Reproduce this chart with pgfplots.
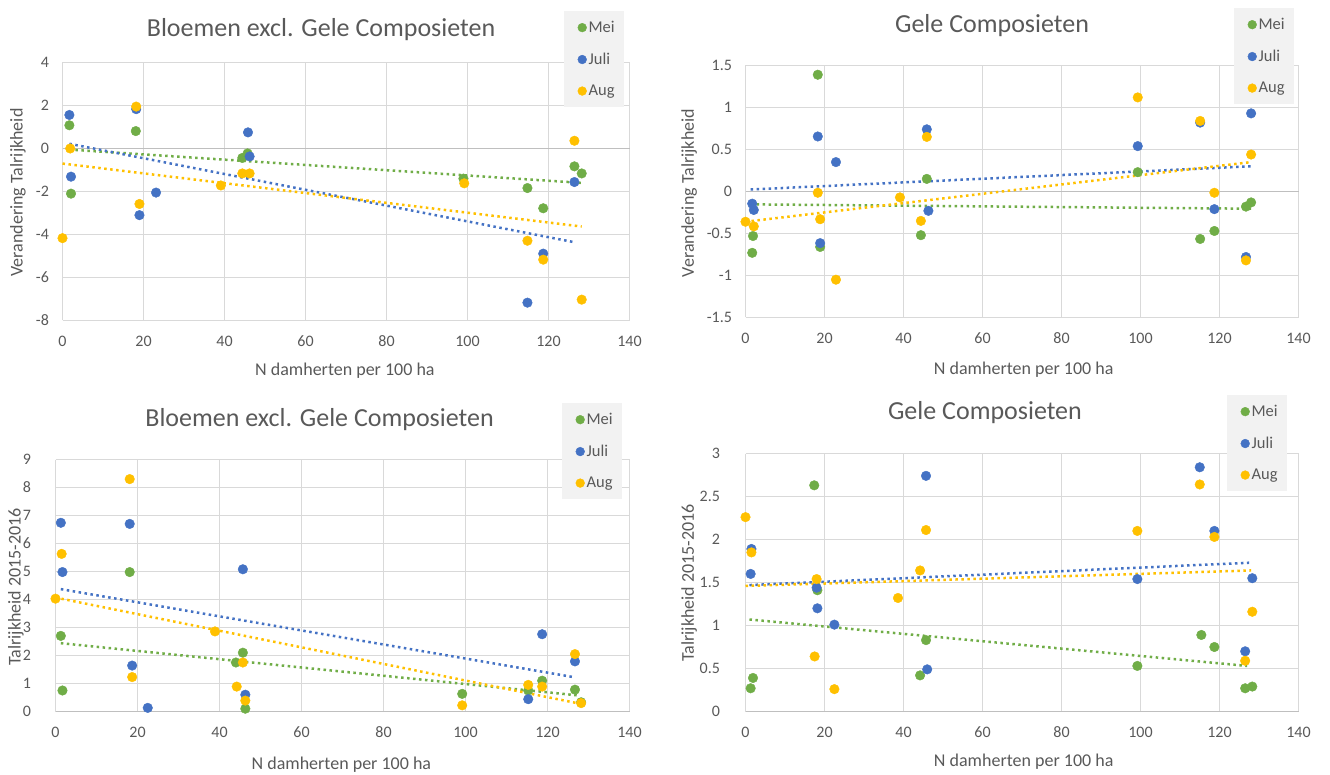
\documentclass[border=0pt]{standalone}
\usepackage{fontspec}
\setmainfont{Carlito}
\usepackage{pgfplots}
\pgfplotsset{compat=1.18}

\definecolor{mei}{HTML}{70AD47}
\definecolor{juli}{HTML}{4472C4}
\definecolor{aug}{HTML}{FFC000}
\definecolor{txt}{HTML}{595959}
\definecolor{gridc}{HTML}{D9D9D9}
\definecolor{zeroc}{HTML}{BFBFBF}
\definecolor{legbg}{HTML}{F2F2F2}

\pgfplotsset{
  panel/.style={
    scale only axis,
    xmin=0, xmax=140, xtick={0,20,...,140},
    grid=major,
    grid style={gridc, line width=1.3pt},
    axis line style={draw=none},
    major tick length=0pt,
    tick label style={font=\fontsize{16}{19}\selectfont, text=txt},
    /pgf/number format/assume math mode=true,
    xticklabel style={yshift=-12pt},
    yticklabel style={xshift=-10pt},
    label style={font=\fontsize{18}{22}\selectfont, text=txt},
    title style={font=\fontsize{26}{30}\selectfont, text=txt, anchor=base, yshift=-6pt},
    xlabel={N damherten per 100 ha},
    extra y ticks={0}, extra y tick labels={},
    extra y tick style={grid style={zeroc, line width=1.3pt}},
    legend style={fill=legbg, draw=none, anchor=north west,
      font=\fontsize{16.5}{20}\selectfont, text=txt,
      row sep=15pt, inner xsep=7pt, inner ysep=8pt, cells={anchor=west}},
    clip=false,
  },
  pts/.style={only marks, mark=*, mark size=4.8pt, color=#1,
    mark options={draw=none, fill=#1}},
  trend/.style={color=#1, line width=2.5pt, dash pattern=on 2.5pt off 3.5pt,
    forget plot},
}
\pgfplotsset{legend image code/.code={%
  \draw[#1, mark size=4.4pt] plot coordinates {(0pt,0pt)};
  \path[draw=none, fill=none] (-11pt,0pt) -- (3pt,0pt);}}

\begin{document}
\begin{tikzpicture}
\path[use as bounding box] (0,0) rectangle (1330pt,774pt);

% top left
\begin{axis}[panel, at={(62.5pt,453.5pt)}, anchor=south west,
  width=567pt, height=258pt,
  ymin=-8, ymax=4, ytick={-8,-6,...,4},
  title={Bloemen excl. Gele Composieten},
  title style={at={(0.456,1.1)}},
  ylabel={Verandering Talrijkheid},
  ylabel style={at={(axis description cs:-0.0785,0.496)}, anchor=center},
  xlabel style={at={(axis description cs:0.498,-0.215)}, anchor=base},
  legend style={at={(0.8845,1.1996)}}]
\addplot[pts=mei] coordinates {(1.7,1.08) (2.1,-2.1) (18.1,0.81) (44.4,-0.44) (45.7,-0.23) (99.0,-1.40) (114.8,-1.84) (118.7,-2.78) (126.4,-0.83) (128.2,-1.16)};
\addplot[pts=juli] coordinates {(1.7,1.56) (2.1,-1.31) (18.2,1.83) (19.0,-3.10) (23.1,-2.05) (45.8,0.75) (46.2,-0.37) (114.8,-7.17) (118.7,-4.89) (126.4,-1.56)};
\addplot[pts=aug] coordinates {(0,-4.17) (1.9,0.0) (18.2,1.95) (19.0,-2.58) (39.1,-1.72) (44.4,-1.16) (46.2,-1.16) (99.2,-1.62) (114.8,-4.29) (118.7,-5.17) (126.4,0.36) (128.2,-7.03)};
\addplot[trend=mei] coordinates {(1.7,-0.05) (128.2,-1.6)};
\addplot[trend=juli] coordinates {(1.7,0.22) (126.4,-4.36)};
\addplot[trend=aug] coordinates {(0,-0.70) (128.2,-3.63)};
\legend{Mei,Juli,Aug}
\end{axis}

% top right
\begin{axis}[panel, at={(745.5pt,456.5pt)}, anchor=south west,
  width=553pt, height=252pt,
  ymin=-1.5, ymax=1.5, ytick={-1.5,-1,...,1.5},
  title={Gele Composieten},
  title style={at={(0.4458,1.129)}},
  ylabel={Verandering Talrijkheid},
  ylabel style={at={(axis description cs:-0.102,0.494)}, anchor=center},
  xlabel style={at={(axis description cs:0.503,-0.228)}, anchor=base},
  legend style={at={(0.8834,1.228)}}]
\addplot[pts=mei] coordinates {(1.7,-0.73) (1.9,-0.53) (18.3,1.39) (18.9,-0.66) (44.4,-0.52) (45.9,0.15) (99.3,0.23) (115.1,-0.565) (118.7,-0.47) (126.7,-0.18) (128,-0.13)};
\addplot[pts=juli] coordinates {(1.7,-0.145) (2.1,-0.22) (18.3,0.655) (18.9,-0.615) (22.9,0.35) (45.9,0.74) (46.3,-0.23) (99.3,0.54) (115.1,0.82) (118.7,-0.21) (126.7,-0.78) (128,0.93)};
\addplot[pts=aug] coordinates {(0,-0.36) (2.1,-0.415) (18.3,-0.015) (18.9,-0.33) (22.9,-1.05) (39.1,-0.07) (44.4,-0.35) (45.9,0.65) (99.3,1.12) (115.1,0.84) (118.7,-0.015) (126.7,-0.82) (128,0.44)};
\addplot[trend=mei] coordinates {(1.3,-0.153) (128,-0.205)};
\addplot[trend=juli] coordinates {(1.3,0.024) (128,0.30)};
\addplot[trend=aug] coordinates {(0,-0.36) (128,0.35)};
\legend{Mei,Juli,Aug}
\end{axis}

% bottom left
\begin{axis}[panel, at={(55.5pt,62.5pt)}, anchor=south west,
  width=574pt, height=252pt,
  ymin=0, ymax=9, ytick={0,1,...,9},
  yticklabel style={xshift=-11pt},
  title={Bloemen excl. Gele Composieten},
  title style={at={(0.46,1.129)}},
  ylabel={Talrijkheid 2015-2016},
  ylabel style={at={(axis description cs:-0.0688,0.494)}, anchor=center},
  xlabel style={at={(axis description cs:0.498,-0.232)}, anchor=base},
  legend style={at={(0.8824,1.224)}}]
\addplot[pts=mei] coordinates {(1.3,2.7) (1.7,0.75) (18.1,4.98) (44.0,1.75) (45.7,2.1) (46.3,0.1) (99.2,0.63) (115.3,0.75) (118.7,1.1) (126.7,0.78) (128.2,0.33)};
\addplot[pts=juli] coordinates {(1.3,6.74) (1.7,4.98) (18.1,6.7) (18.7,1.64) (22.5,0.13) (45.7,5.08) (46.3,0.6) (115.3,0.44) (118.7,2.76) (126.7,1.79)};
\addplot[pts=aug] coordinates {(0,4.03) (1.5,5.63) (18.1,8.3) (18.7,1.23) (38.9,2.86) (44.2,0.89) (45.7,1.75) (46.3,0.39) (99.2,0.22) (115.3,0.95) (118.7,0.89) (126.7,2.05) (128.2,0.3)};
\addplot[trend=mei] coordinates {(1.3,2.44) (127.8,0.57)};
\addplot[trend=juli] coordinates {(1.3,4.37) (126.7,1.22)};
\addplot[trend=aug] coordinates {(0,4.07) (128.2,0.27)};
\legend{Mei,Juli,Aug}
\end{axis}

% bottom right
\begin{axis}[panel, at={(745.5pt,62.5pt)}, anchor=south west,
  width=553pt, height=258pt,
  ymin=0, ymax=3, ytick={0,0.5,...,3},
  yticklabel style={xshift=-12pt},
  title={Gele Composieten},
  title style={at={(0.433,1.13)}},
  ylabel={Talrijkheid 2015-2016},
  ylabel style={at={(axis description cs:-0.102,0.498)}, anchor=center},
  xlabel style={at={(axis description cs:0.503,-0.215)}, anchor=base},
  legend style={at={(0.8707,1.2267)}}]
\addplot[pts=mei] coordinates {(1.3,0.27) (1.9,0.39) (17.4,2.63) (18.2,1.41) (44.2,0.42) (45.7,0.83) (99.2,0.53) (115.4,0.89) (118.7,0.75) (126.5,0.27) (128.3,0.29)};
\addplot[pts=juli] coordinates {(1.3,1.6) (1.5,1.89) (18,1.44) (18.2,1.2) (22.5,1.01) (45.7,2.74) (46,0.49) (99.2,1.54) (115,2.84) (118.7,2.10) (126.5,0.70) (128.3,1.55)};
\addplot[pts=aug] coordinates {(0,2.26) (1.5,1.85) (17.5,0.64) (18,1.54) (22.5,0.26) (38.6,1.32) (44.2,1.64) (45.7,2.11) (99.2,2.1) (115,2.64) (118.7,2.03) (126.5,0.59) (128.3,1.16)};
\addplot[trend=mei] coordinates {(1,1.07) (127,0.53)};
\addplot[trend=juli] coordinates {(1,1.47) (127.5,1.73)};
\addplot[trend=aug] coordinates {(0,1.46) (128,1.64)};
\legend{Mei,Juli,Aug}
\end{axis}
\end{tikzpicture}
\end{document}
